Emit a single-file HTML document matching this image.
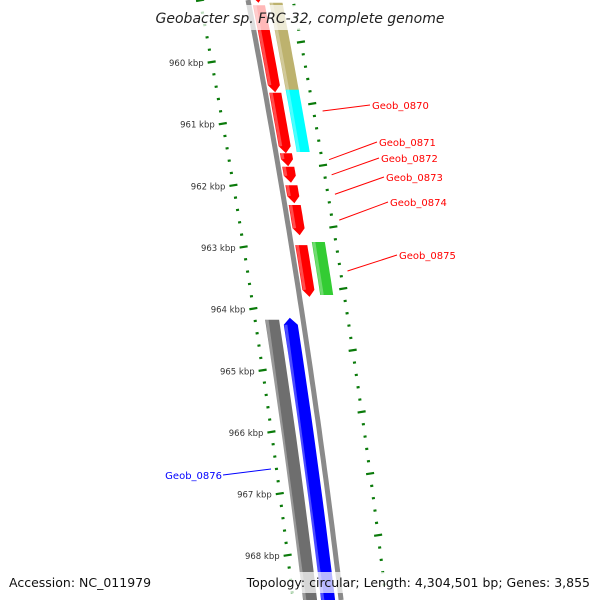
<!DOCTYPE html>
<html><head><meta charset="utf-8"><style>
html,body{margin:0;padding:0;background:#fff;width:600px;height:600px;overflow:hidden}
svg{display:block;overflow:hidden;font-family:"DejaVu Sans","Liberation Sans",sans-serif}
</style></head><body>
<svg id="map" width="600" height="600" viewBox="0 0 600 600" xmlns="http://www.w3.org/2000/svg">
<g id="ticks"></g>
<path id="backbone" fill="none" stroke="#8a8a8a" stroke-width="5"/>
<g id="genes"></g>
<g id="labels"></g>
<rect x="158" y="5" width="284" height="25" fill="#fff" fill-opacity="0.72"/>
<text x="300" y="23" text-anchor="middle" font-size="14" font-style="italic" fill="#222">Geobacter sp. FRC-32, complete genome</text>
<rect x="4" y="572" width="146" height="21" fill="#fff" fill-opacity="0.72"/>
<text x="9" y="587" font-size="12.5" fill="#111">Accession: NC_011979</text>
<rect x="257" y="572" width="338" height="21" fill="#fff" fill-opacity="0.72"/>
<text x="590" y="587" text-anchor="end" font-size="12.5" fill="#111">Topology: circular; Length: 4,304,501 bp; Genes: 3,855</text>
</svg>
<script>
// data (kbp)
const innerGeneStarts = [958.67, 959.08, 960.50, 961.48, 961.70, 962.00, 962.32, 962.97];
const innerGeneEnds   = [959.04, 960.49, 961.48, 961.69, 961.96, 962.29, 962.81, 963.81];
const outerGeneNames  = ["cog-tan","cog-cyan","cog-green"];
const outerGeneStarts = [959.04, 960.45, 962.92];
const outerGeneEnds   = [960.49, 961.46, 963.78];
const outerGeneColors = ["#bdb26e","#00ffff","#33cc33"];
const revGeneStarts = [964.18, 964.15];
const revGeneEnds   = [968.95, 968.95];
const revGeneColors = ["#6e6e6e","#0000ff"];
const tickStartKbp = 958.6, tickEndKbp = 968.8;
const majorTickLabels = ["960 kbp","961 kbp","962 kbp","963 kbp","964 kbp","965 kbp","966 kbp","967 kbp","968 kbp"];
const majorTickKbp = [960,961,962,963,964,965,966,967,968];
const labelNames = ["Geob_0870","Geob_0871","Geob_0872","Geob_0873","Geob_0874","Geob_0875"];

const NS="http://www.w3.org/2000/svg";
function yK(k){return 62+(k-960)*61.65;}
function cx(y){return 248+0.1917*y-6.1e-5*y*y;}
function mk(tag,attrs,parent){const e=document.createElementNS(NS,tag);for(const a in attrs)e.setAttribute(a,attrs[a]);parent.appendChild(e);return e;}

let d="";for(let y=0;y<=600;y+=10){d+=(y==0?"M":"L")+cx(y).toFixed(1)+","+y;}
document.getElementById('backbone').setAttribute('d',d);

const tg=document.getElementById('ticks');
for(let i=0;;i++){
  const k=tickStartKbp+i*0.2; if(k>tickEndKbp+0.001)break;
  const major=Math.abs(k-Math.round(k))<0.01;
  const w=major?8:3;
  [[0,-48],[-20,45]].forEach(([dy,off],side)=>{
    const y=yK(k)+dy; if(y<0||y>598)return;
    const x=cx(y)+off;
    const l=mk('line',{x1:x-w/2,y1:y+w*0.08,x2:x+w/2,y2:y-w*0.08,stroke:'#0a7a0a','stroke-width':2.2},tg);
    
    
  });
}
majorTickKbp.forEach((k,i)=>{
  const y=yK(k);const x=cx(y)-48;
  const t=mk('text',{x:x-8,y:y+4,'text-anchor':'end','font-size':8.5,fill:'#333'},tg);
  t.textContent=majorTickLabels[i];
  
  
});

const gg=document.getElementById('genes');
function band(y1,y2,o1,o2,tip,color,name){
  const pts=[];const L=7;
  const a=tip==-1?y1+L:y1, b=tip==1?y2-L:y2;
  if(tip==-1)pts.push([cx(y1)+(o1+o2)/2,y1]);
  for(let y=a;y<=b+0.01;y+=(b-a)/10)pts.push([cx(y)+o2,y]);
  if(tip==1)pts.push([cx(y2)+(o1+o2)/2,y2]);
  for(let y=b;y>=a-0.01;y-=(b-a)/10)pts.push([cx(y)+o1,y]);
  const p=mk('polygon',{points:pts.map(q=>q[0].toFixed(1)+","+q[1].toFixed(1)).join(" "),fill:color},gg);
  
  
  const s=mk('line',{x1:cx(a)+o1+2,y1:a,x2:cx(b)+o1+2,y2:b,stroke:'#fff','stroke-opacity':0.3,'stroke-width':3},gg);
  
  
}
innerGeneStarts.forEach((s,i)=>band(yK(s),yK(innerGeneEnds[i]),4,16,1,'#ff0000','gene-forward-'+i));
outerGeneStarts.forEach((s,i)=>band(yK(s),yK(outerGeneEnds[i]),21,34,0,outerGeneColors[i],outerGeneNames[i]));
band(yK(revGeneStarts[0]),yK(revGeneEnds[0]),-38,-24,0,revGeneColors[0],'cog-gray');
band(yK(revGeneStarts[1]),yK(revGeneEnds[1]),-20,-6,-1,revGeneColors[1],'gene-reverse-geob-0876');

const lg=document.getElementById('labels');
const labelGeneIdx=[2,3,4,5,6,7];
const labelTextX=[372,379,381,386,390,399];
const labelTextY=[109,146,162,181,206,259];
labelNames.forEach((n,i)=>{
  const g=labelGeneIdx[i];
  const ym=(yK(innerGeneStarts[g])+yK(innerGeneEnds[g]))/2;
  const y0=ym-6;const x0=cx(y0)+53;
  const ln=mk('line',{x1:x0,y1:y0+(i==0?-6:6),x2:labelTextX[i]-2,y2:labelTextY[i]-4,stroke:'#ff0000','stroke-width':1},lg);
  
  
  const t=mk('text',{x:labelTextX[i],y:labelTextY[i],'font-size':10,fill:'#ff0000'},lg);
  t.textContent=n;
  
  
});
const bl=mk('line',{x1:223,y1:475,x2:271,y2:469,stroke:'#0000ff','stroke-width':1},lg);


const bt=mk('text',{x:222,y:479,'text-anchor':'end','font-size':10,fill:'#0000ff'},lg);
bt.textContent="Geob_0876";


</script>
</body></html>
